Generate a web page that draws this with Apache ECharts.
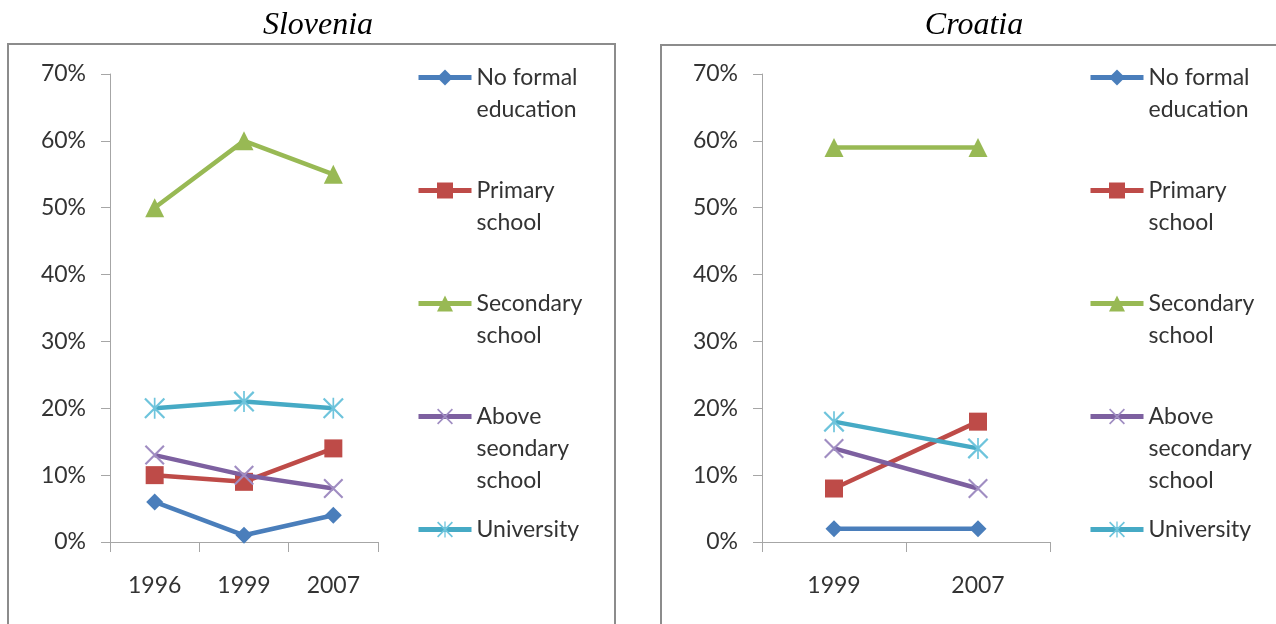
<!DOCTYPE html>
<html>
<head>
<meta charset="utf-8">
<script src="https://cdn.jsdelivr.net/npm/echarts@6/dist/echarts.min.js"></script>
<style>
html,body{margin:0;padding:0;background:#fff;}
#chart{width:1276px;height:624px;}
</style>
</head>
<body>
<div id="chart"></div>
<script>
// ---- data ----
const categoriesSlovenia = ['1996', '1999', '2007'];
const categoriesCroatia = ['1999', '2007'];
const yTickMax = 70;
const yTickStep = 10;

const namesSlovenia = ['No formal education', 'Primary school', 'Secondary school', 'Above seondary school', 'University'];
const labelsSlovenia = ['No formal\neducation', 'Primary\nschool', 'Secondary\nschool', 'Above\nseondary\nschool', 'University'];
const namesCroatia = ['No formal education', 'Primary school', 'Secondary school', 'Above secondary school', 'University'];
const labelsCroatia = ['No formal\neducation', 'Primary\nschool', 'Secondary\nschool', 'Above\nsecondary\nschool', 'University'];

const sloNoFormal = [6, 1, 4];
const sloPrimary = [10, 9, 14];
const sloSecondary = [50, 60, 55];
const sloAbove = [13, 10, 8];
const sloUniversity = [20, 21, 20];

const croNoFormal = [2, 2];
const croPrimary = [8, 18];
const croSecondary = [59, 59];
const croAbove = [14, 8];
const croUniversity = [18, 14];

// ---- styles ----
const pathX = 'path://M0,1.5L1.5,0L20,18.5L18.5,20Z M18.5,0L20,1.5L1.5,20L0,18.5Z';
const pathStar = 'path://M0,1.5L1.5,0L20,18.5L18.5,20Z M18.5,0L20,1.5L1.5,20L0,18.5Z M9.2,0L10.8,0L10.8,20L9.2,20Z';
const seriesStyles = [
  {line: '#4A7EBB', mark: '#4A7EBB', symbol: 'diamond', size: 17},
  {line: '#BE4B48', mark: '#BE4B48', symbol: 'rect', size: 18},
  {line: '#98B954', mark: '#98B954', symbol: 'triangle', size: 19},
  {line: '#7D60A0', mark: '#A08DC2', symbol: pathX, size: 20},
  {line: '#46AAC5', mark: '#6EC4DC', symbol: pathStar, size: 21}
];
const FONT = 'Lato';
const TEXT_COLOR = '#333';
const AXIS_COLOR = '#a6a6a6';

const chart = echarts.init(document.getElementById('chart'), null, {renderer: 'canvas'});

function makeSeries(names, datasets, axisIndex) {
  return names.map((n, i) => ({
    type: 'line',
    name: n,
    data: datasets[i],
    xAxisIndex: axisIndex,
    yAxisIndex: axisIndex,
    symbol: seriesStyles[i].symbol,
    symbolSize: seriesStyles[i].size,
    showAllSymbol: true,
    lineStyle: {color: seriesStyles[i].line, width: 4.5},
    itemStyle: {color: seriesStyles[i].mark},
    emphasis: {disabled: true},
    z: 2 + i
  }));
}

const legendTops = [77, 190, 303, 416, 529];
function makeLegends(names, labels, left) {
  const map = {};
  names.forEach((n, i) => { map[n] = labels[i]; });
  return names.map((n, i) => {
    const lines = labels[i].split('\n').length;
    return {
      orient: 'vertical',
      left: left,
      top: legendTops[i] - 11,
      padding: 0,
      itemWidth: 53,
      itemHeight: 20,
      itemGap: 0,
      selectedMode: false,
      lineStyle: {width: 5},
      data: [{name: n, textStyle: {padding: [32 * (lines - 1), 0, 0, 0]}}],
      formatter: function (name) {
        return map[name].split('\n').map(s => '{t|' + s + '}').join('\n');
      },
      textStyle: {
        rich: {t: {fontFamily: FONT, fontSize: 23, lineHeight: 32, color: TEXT_COLOR}}
      }
    };
  });
}

function makeXAxis(cats, gridIndex) {
  return {
    type: 'category',
    gridIndex: gridIndex,
    data: cats,
    boundaryGap: true,
    axisLine: {show: true, lineStyle: {color: AXIS_COLOR, width: 1}},
    axisTick: {show: true, length: 10, lineStyle: {color: AXIS_COLOR}},
    axisLabel: {fontFamily: FONT, fontSize: 23, color: TEXT_COLOR, margin: 32},
    splitLine: {show: false}
  };
}
function makeYAxis(gridIndex) {
  return {
    type: 'value',
    gridIndex: gridIndex,
    min: 0,
    max: yTickMax,
    interval: yTickStep,
    axisLine: {show: true, lineStyle: {color: AXIS_COLOR, width: 1}},
    axisTick: {show: true, length: 9, lineStyle: {color: AXIS_COLOR}},
    axisLabel: {fontFamily: FONT, fontSize: 23, color: TEXT_COLOR, margin: 24, formatter: '{value}%'},
    splitLine: {show: false}
  };
}

const option = {
  animation: false,
  backgroundColor: '#fff',
  graphic: [
    {type: 'rect', shape: {x: 8, y: 44, width: 607, height: 620}, style: {fill: 'none', stroke: '#8c8c8c', lineWidth: 2}, z: 0, silent: true},
    {type: 'rect', shape: {x: 661, y: 45, width: 640, height: 620}, style: {fill: 'none', stroke: '#8c8c8c', lineWidth: 2}, z: 0, silent: true},
    {type: 'text', x: 318, y: 26, style: {text: 'Slovenia', textAlign: 'center', align: 'center', textVerticalAlign: 'middle', verticalAlign: 'middle', fontFamily: 'Liberation Serif', fontStyle: 'italic', fontSize: 32, fill: '#000'}, silent: true},
    {type: 'text', x: 974, y: 26, style: {text: 'Croatia', textAlign: 'center', align: 'center', textVerticalAlign: 'middle', verticalAlign: 'middle', fontFamily: 'Liberation Serif', fontStyle: 'italic', fontSize: 32, fill: '#000'}, silent: true}
  ],
  grid: [
    {left: 110, top: 74, width: 268, height: 468, containLabel: false},
    {left: 762, top: 74, width: 288, height: 468, containLabel: false}
  ],
  xAxis: [makeXAxis(categoriesSlovenia, 0), makeXAxis(categoriesCroatia, 1)],
  yAxis: [makeYAxis(0), makeYAxis(1)],
  legend: makeLegends(namesSlovenia, labelsSlovenia, 416).concat(makeLegends(namesCroatia, labelsCroatia, 1088)),
  series: makeSeries(namesSlovenia, [sloNoFormal, sloPrimary, sloSecondary, sloAbove, sloUniversity], 0)
    .concat(makeSeries(namesCroatia, [croNoFormal, croPrimary, croSecondary, croAbove, croUniversity], 1))
};
chart.setOption(option);
</script>
</body>
</html>
